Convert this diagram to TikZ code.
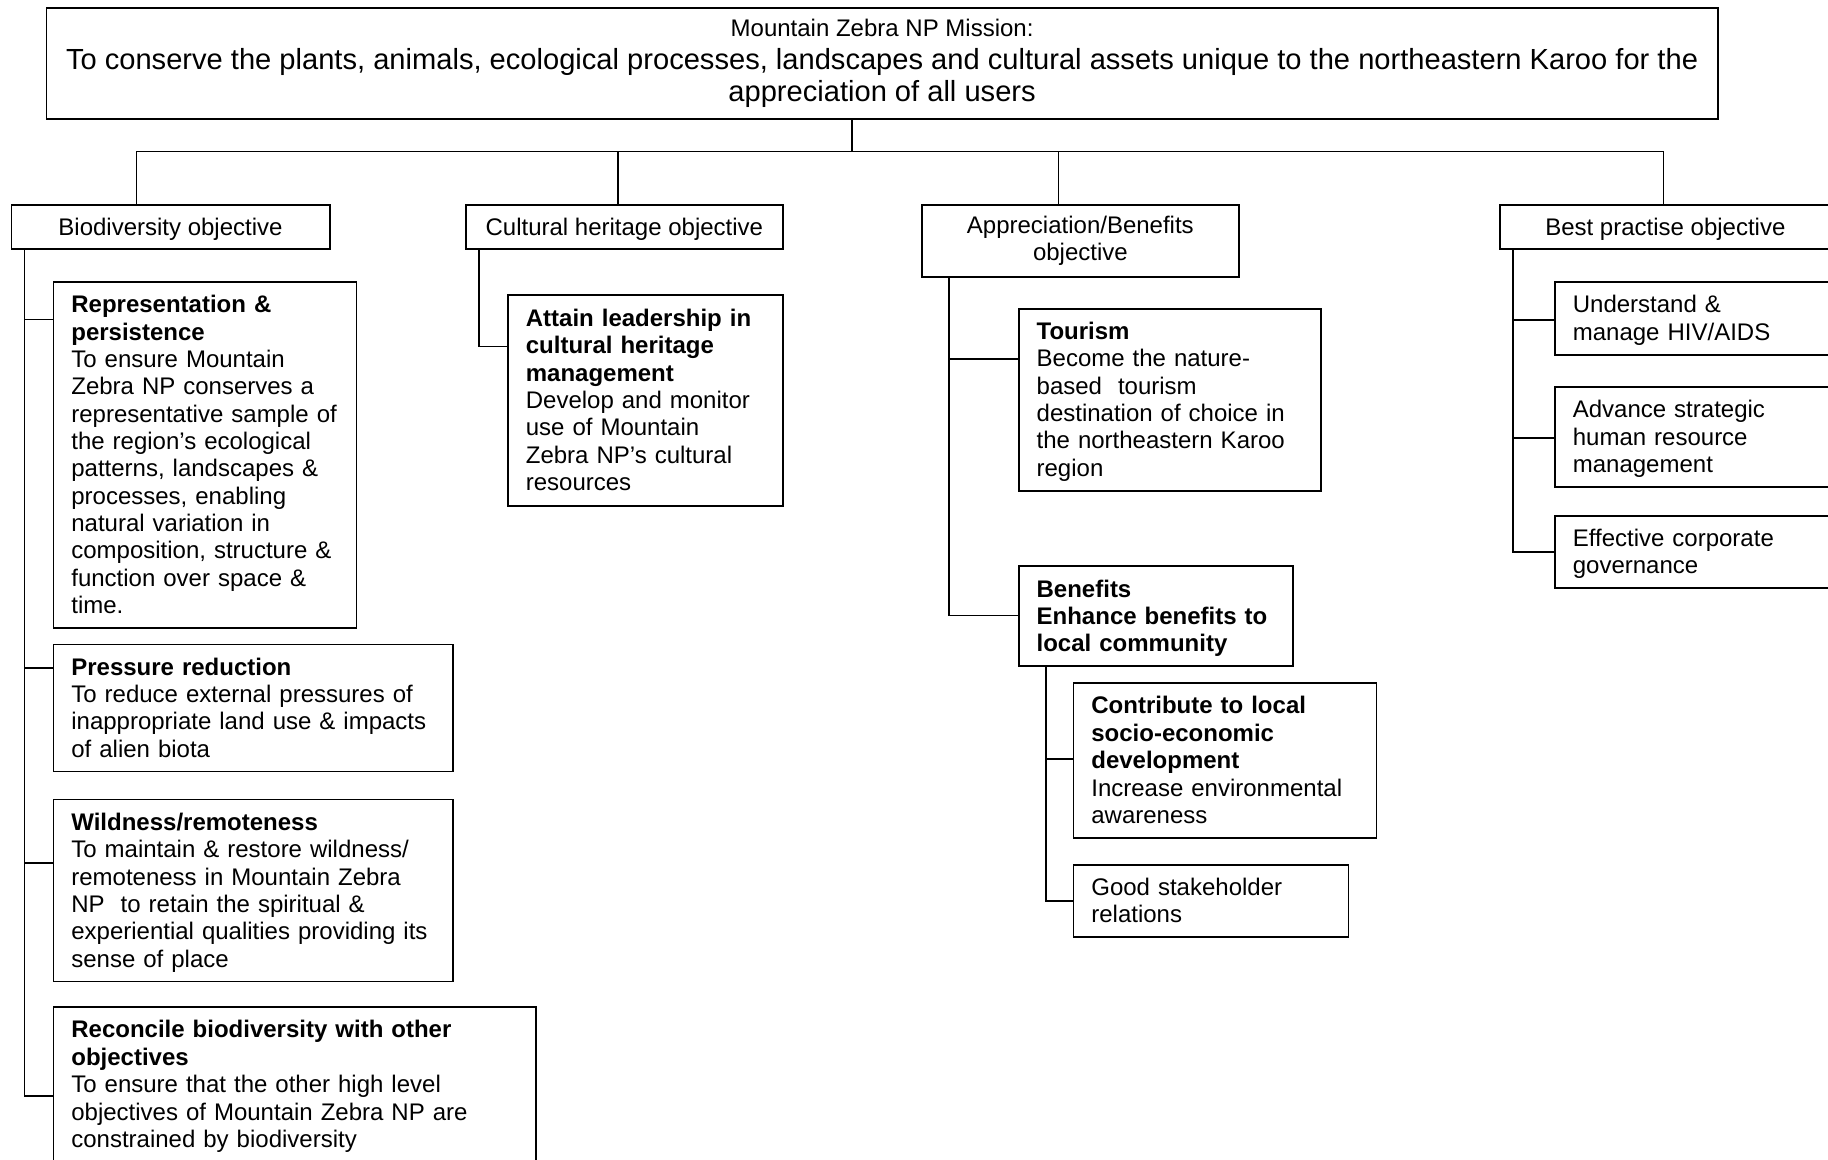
\documentclass[tikz,border=0pt]{standalone}
\usepackage{fontspec}
\setmainfont{Liberation Sans}
\newcommand\txtfont{\fontsize{24}{27.34}\selectfont}
\newcommand\missfont{\fontsize{29.1}{32.7}\selectfont}

\begin{document}
\begin{tikzpicture}[
    x=1pt, y=-1pt, line width=1.7pt,
    box/.style={draw, anchor=north west, execute at begin node={\rule{0pt}{21.7pt}}, execute at end node={\rule[-5.1pt]{0pt}{0pt}}},
    mission/.style={box, align=center, minimum width=1671.5pt, minimum height=111pt, font=\missfont, execute at begin node={\rule{0pt}{27pt}}},
    head/.style={box, align=center, minimum height=44.3pt, font=\txtfont},
    obj/.style={box, align=left, inner xsep=18pt, inner ysep=0pt, font=\txtfont}
]
\useasboundingbox (0,0) rectangle (1828,1159);

\node[mission] (mission) at (45.5,7) {{\txtfont Mountain Zebra NP Mission:}\\
  To conserve the plants, animals, ecological processes, landscapes and cultural assets unique to the northeastern Karoo for the\\
  appreciation of all users};

% objectives
\node[head, minimum width=318.3pt] (bio) at (10.5,204) {Biodiversity objective};
\node[head, minimum width=317pt] (cult) at (465,204) {Cultural heritage objective};
\node[head, minimum width=317pt, minimum height=72.3pt] (appr) at (921,204) {Appreciation/Benefits\\objective};
\node[head, minimum width=331pt] (best) at (1499,204) {Best practise objective};

% biodiversity
\node[obj, text width=267pt, minimum height=346pt] (repr) at (52.5,281) {\textbf{Representation \&}\\\textbf{persistence}\\To ensure Mountain\\Zebra NP conserves a\\representative sample of\\the region’s ecological\\patterns, landscapes \&\\processes, enabling\\natural variation in\\composition, structure \&\\function over space \&\\time.};
\node[obj, text width=363.5pt, minimum height=127pt] (press) at (52.5,643.5) {\textbf{Pressure reduction}\\To reduce external pressures of\\inappropriate land use \& impacts\\of alien biota};
\node[obj, text width=363.5pt, minimum height=182pt] (wild) at (52.5,798.6) {\textbf{Wildness/remoteness}\\To maintain \& restore wildness/\\remoteness in Mountain Zebra\\NP\ \ to retain the spiritual \&\\experiential qualities providing its\\sense of place};
\node[obj, text width=446.5pt, minimum height=155pt] (recon) at (52.5,1006) {\textbf{Reconcile biodiversity with other}\\\textbf{objectives}\\To ensure that the other high level\\objectives of Mountain Zebra NP are\\constrained by biodiversity};

% cultural heritage
\node[obj, text width=239pt, minimum height=211pt] (attain) at (507,294) {\textbf{Attain leadership in}\\\textbf{cultural heritage}\\\textbf{management}\\Develop and monitor\\use of Mountain\\Zebra NP’s cultural\\resources};

% appreciation / benefits
\node[obj, text width=266pt, minimum height=182pt] (tour) at (1017.8,307.8) {\textbf{Tourism}\\Become the nature-\\based\ \ tourism\\destination of choice in\\the northeastern Karoo\\region};
\node[obj, text width=238pt, minimum height=100pt] (ben) at (1017.8,565.4) {\textbf{Benefits}\\\textbf{Enhance benefits to}\\\textbf{local community}};
\node[obj, text width=267pt, minimum height=155pt] (contrib) at (1072.5,682) {\textbf{Contribute to local}\\\textbf{socio-economic}\\\textbf{development}\\Increase environmental\\awareness};
\node[obj, text width=239pt, minimum height=72pt] (good) at (1072.5,864) {Good stakeholder\\relations};

% best practise
\node[obj, text width=260pt, minimum height=73pt] (hiv) at (1554,281) {Understand \&\\manage HIV/AIDS};
\node[obj, text width=260pt, minimum height=100pt] (hr) at (1554,386) {Advance strategic\\human resource\\management};
\node[obj, text width=260pt, minimum height=72pt] (gov) at (1554,515) {Effective corporate\\governance};

% connectors
\coordinate (bar) at (852,151.5);
\draw (mission.south -| bar) -- (bar);
\draw ([xshift=125.9pt]bio.north west) |- (bar);
\draw ([xshift=152.9pt]cult.north west) |- (bar);
\draw ([xshift=137.6pt]appr.north west) |- (bar);
\draw ([xshift=164.6pt]best.north west) |- (bar);

\coordinate (biot) at (24.5,0);
\foreach \c/\d in {repr/38.4, press/24.5, wild/64.1, recon/90}
  \draw (bio.south -| biot) |- ([yshift=-\d pt]\c.north west);

\coordinate (cultt) at (479,0);
\draw (cult.south -| cultt) |- ([yshift=-52.4pt]attain.north west);

\coordinate (apprt) at (949,0);
\foreach \c/\d in {tour/51.2, ben/50.1}
  \draw (appr.south -| apprt) |- ([yshift=-\d pt]\c.north west);

\coordinate (bent) at (1045.7,0);
\foreach \c/\d in {contrib/77, good/37}
  \draw (ben.south -| bent) |- ([yshift=-\d pt]\c.north west);

\coordinate (bestt) at (1513.2,0);
\foreach \c/\d in {hiv/39, hr/51.7, gov/37}
  \draw (best.south -| bestt) |- ([yshift=-\d pt]\c.north west);

\end{tikzpicture}
\end{document}
